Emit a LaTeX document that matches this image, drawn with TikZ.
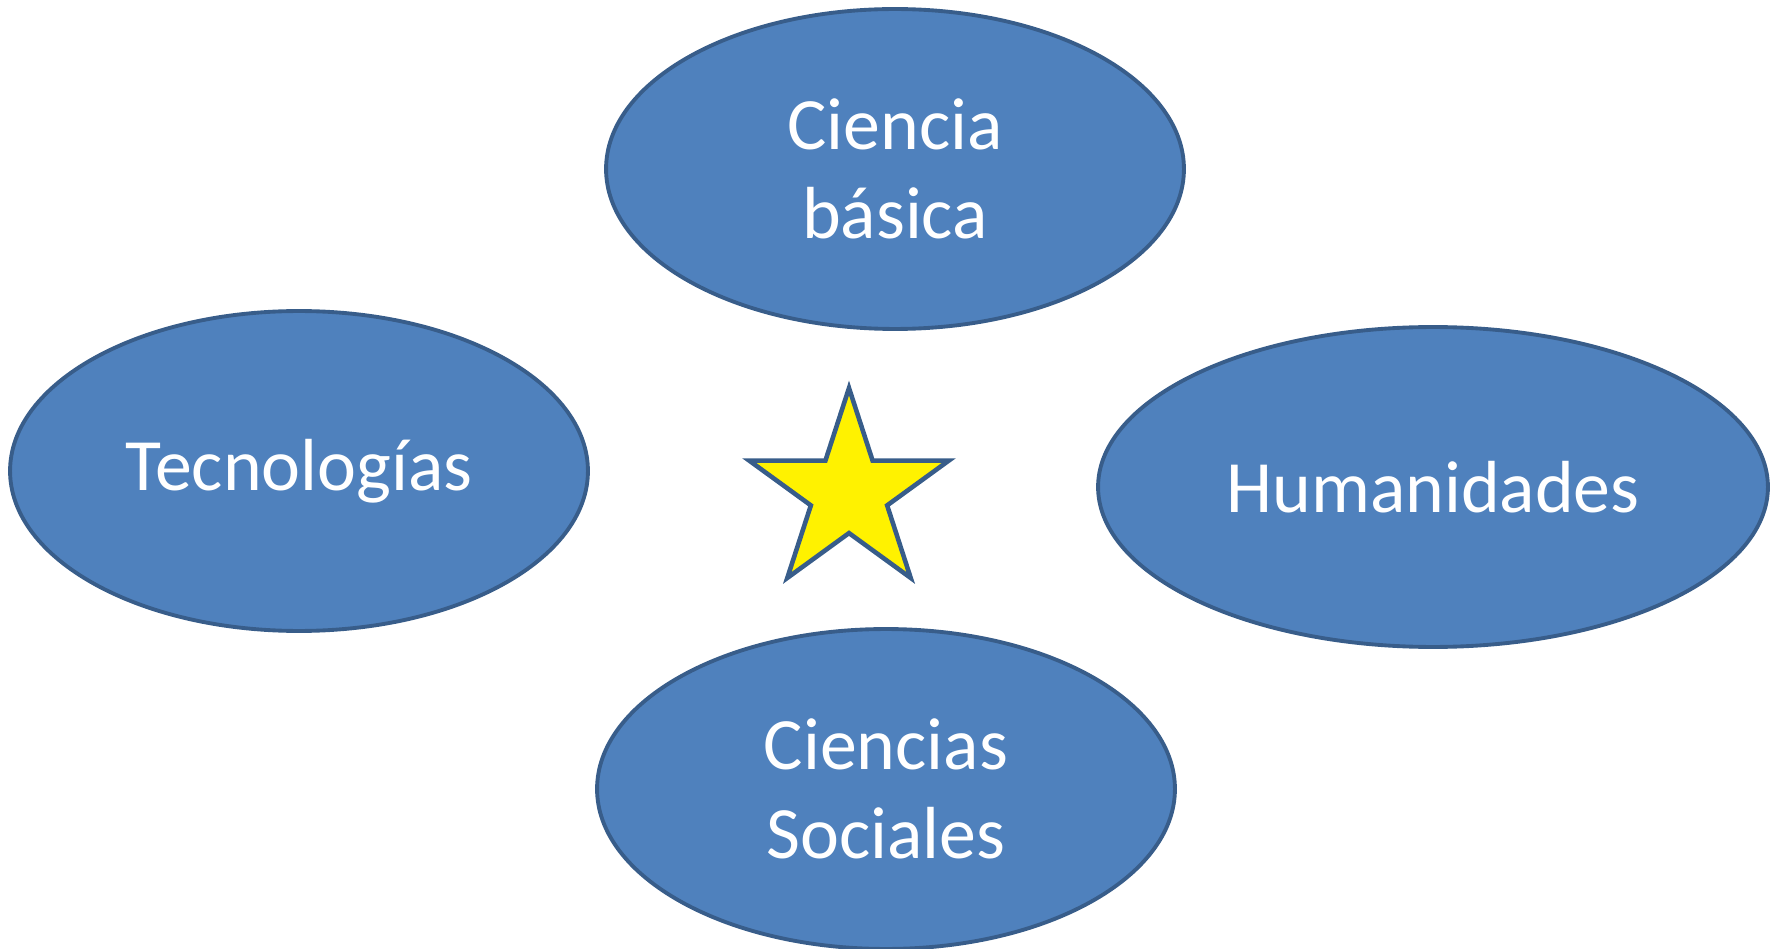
\documentclass[tikz,border=0pt]{standalone}
\usepackage{fontspec}
\setmainfont{Carlito}
\usetikzlibrary{shapes.geometric}
\definecolor{areafill}{HTML}{4F81BD}
\definecolor{arealine}{HTML}{385D8A}
\begin{document}
\begin{tikzpicture}[x=0.02cm,y=-0.02cm,
	area/.style={ellipse,draw=arealine,fill=areafill,line width=2.2pt,inner sep=0pt,
		minimum width=11.56cm,minimum height=6.4cm,text=white,align=center,
		font=\fontsize{42}{51}\selectfont},
	centrestar/.style={star,star points=5,star point ratio=2.618,minimum size=4.2cm,
		inner sep=0pt,draw=arealine,fill=yellow,line width=2.6pt}
	]
	\useasboundingbox (0,0) rectangle (1775,949);
	
	\node[area] (basica) at (895,169) {Ciencia\\básica};
	\node[area] (tecno) at (299,471) {Tecnologías};
	\node[area,minimum width=13.4cm] (human) at (1433,487) {Humanidades};
	\node[area] (social) at (886,789) {Ciencias\\Sociales};
	
	\node[centrestar] (centro) at (849,493) {};
\end{tikzpicture}
\end{document}
